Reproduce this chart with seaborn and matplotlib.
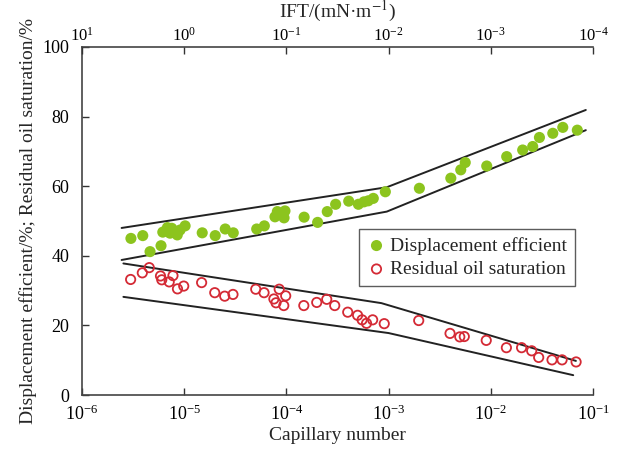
import seaborn as sns
import matplotlib
matplotlib.use("Agg")
import matplotlib.pyplot as plt
import matplotlib.ticker as mticker
import pandas as pd

# displacement efficiency points
ca_disp = [3.01e-6, 3.93e-6, 4.63e-6, 5.93e-6, 6.17e-6, 6.84e-6, 7.26e-6, 7.55e-6, 8.55e-6, 9.10e-6,
           1.02e-5, 1.50e-5, 2.01e-5, 2.52e-5, 3.02e-5, 5.12e-5, 6.08e-5, 7.73e-5, 8.15e-5, 9.68e-5,
           9.48e-5, 8.90e-5, 1.49e-4, 2.02e-4, 2.51e-4, 3.03e-4, 4.07e-4, 5.06e-4, 5.74e-4, 6.32e-4,
           7.08e-4, 9.29e-4, 2.00e-3, 4.06e-3, 5.08e-3, 5.62e-3, 9.12e-3, 1.43e-2, 2.05e-2, 2.57e-2,
           2.99e-2, 4.04e-2, 5.06e-2, 7.02e-2]
disp_eff = [45.0, 45.8, 41.2, 42.9, 46.8, 48.1, 46.5, 47.9, 46.0, 47.4,
            48.6, 46.6, 45.8, 47.7, 46.6, 47.7, 48.6, 51.2, 52.7, 52.9,
            50.9, 52.0, 51.1, 49.6, 52.7, 54.8, 55.7, 54.8, 55.5, 55.8,
            56.5, 58.4, 59.4, 62.3, 64.7, 66.8, 65.8, 68.5, 70.4, 71.4,
            74.0, 75.2, 76.9, 76.1]

# residual oil saturation points
ca_res = [2.99e-6, 3.89e-6, 4.55e-6, 5.86e-6, 6.03e-6, 7.13e-6, 7.76e-6, 8.59e-6, 9.89e-6, 1.48e-5,
          1.99e-5, 2.49e-5, 3.00e-5, 5.01e-5, 6.04e-5, 8.50e-5, 7.54e-5, 7.91e-5, 9.84e-5, 9.42e-5,
          1.48e-4, 1.98e-4, 2.48e-4, 2.97e-4, 3.98e-4, 4.97e-4, 5.50e-4, 6.08e-4, 6.98e-4, 9.06e-4,
          1.97e-3, 3.99e-3, 4.97e-3, 5.50e-3, 9.02e-3, 1.42e-2, 2.00e-2, 2.51e-2, 2.94e-2, 3.97e-2,
          4.98e-2, 6.83e-2]
res_oil = [33.2, 35.1, 36.6, 34.2, 33.1, 32.5, 34.3, 30.5, 31.3, 32.3,
           29.4, 28.4, 28.9, 30.4, 29.4, 30.4, 27.6, 26.5, 28.5, 25.7,
           25.7, 26.6, 27.5, 25.7, 23.8, 22.9, 21.6, 20.6, 21.6, 20.5,
           21.4, 17.7, 16.7, 16.8, 15.7, 13.6, 13.6, 12.7, 10.8, 10.1,
           10.1, 9.5]

# envelope lines
env_disp_ca = [2.44e-6, 9.6e-4, 8.5e-2]
env_disp_hi = [48.0, 59.7, 81.9]
env_disp_lo = [38.8, 52.7, 76.1]
env_res_ca_hi = [2.54e-6, 8.5e-4, 6.8e-2]
env_res_hi = [37.8, 26.4, 9.8]
env_res_ca_lo = [2.54e-6, 1.0e-3, 6.4e-2]
env_res_lo = [28.2, 17.8, 5.7]

xticks = [1e-6, 1e-5, 1e-4, 1e-3, 1e-2, 1e-1]
ift_ticks = [1e1, 1e0, 1e-1, 1e-2, 1e-3, 1e-4]
yticks = [0, 20, 40, 60, 80, 100]

sns.set_style("ticks")
plt.rcParams["font.family"] = ["Liberation Serif", "DejaVu Serif"]
plt.rcParams["mathtext.fontset"] = "stix"
plt.rcParams["xtick.direction"] = "in"
plt.rcParams["ytick.direction"] = "in"

fig = plt.figure(figsize=(6.28, 4.5), dpi=100)
ax = fig.add_axes([0.1306, 0.1222, 0.8137, 0.7734])

df_d = pd.DataFrame({"ca": ca_disp, "v": disp_eff})
df_r = pd.DataFrame({"ca": ca_res, "v": res_oil})

for xs, ys in [(env_disp_ca, env_disp_hi), (env_disp_ca, env_disp_lo),
               (env_res_ca_hi, env_res_hi), (env_res_ca_lo, env_res_lo)]:
    sns.lineplot(x=xs, y=ys, ax=ax, color="#222222", lw=1.4, sort=False, estimator=None)

sns.scatterplot(data=df_d, x="ca", y="v", ax=ax, color="#8cc41e", s=64, edgecolor="none",
                label="Displacement efficient", zorder=3)
sns.scatterplot(data=df_r, x="ca", y="v", ax=ax, facecolor="none", edgecolor="#d42a35",
                s=45, linewidth=1.3, marker="o", label="Residual oil saturation", zorder=3)

ax.set_xscale("log")
ax.set_xlim(1e-6, 1e-1)
ax.set_ylim(0, 100)
ax.set_xticks(xticks)
ax.set_yticks(yticks)
ax.xaxis.set_minor_locator(mticker.NullLocator())
ax.tick_params(labelsize=13, length=5, width=1, colors="#333333", labelcolor="black")
ax.tick_params(axis="x", pad=7)
ax.tick_params(axis="y", pad=9)
ax.set_xlabel("Capillary number", fontsize=14, labelpad=2)
ax.set_ylabel("Displacement efficient/%; Residual oil saturation/%", fontsize=14, labelpad=4)
for s in ["left", "bottom", "top"]:
    ax.spines[s].set_color("#444444")
    ax.spines[s].set_linewidth(1.2)
ax.spines["right"].set_visible(False)

top = ax.twiny()
top.set_xscale("log")
top.set_xlim(1e1, 1e-4)
top.set_xticks(ift_ticks)
top.xaxis.set_minor_locator(mticker.NullLocator())
top.tick_params(labelsize=12, length=5, width=1, pad=2, colors="#333333", labelcolor="black")
top.set_xlabel("IFT/(mN·m$^{-1}$)", fontsize=14, labelpad=6)
for s in top.spines.values():
    s.set_visible(False)

leg = ax.legend(loc="upper left", bbox_to_anchor=(0.542, 0.477), fontsize=14, frameon=True,
                fancybox=False, edgecolor="#333333", handletextpad=0.2, borderpad=0.4,
                labelspacing=0.3, handlelength=1.0, borderaxespad=0)
leg.get_frame().set_linewidth(1.0)

fig.savefig("out.png", dpi=100)
